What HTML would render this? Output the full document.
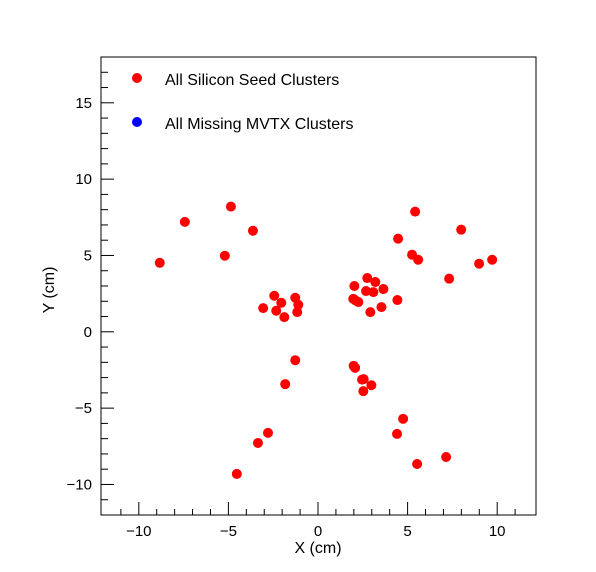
<!DOCTYPE html>
<html><head><meta charset="utf-8"><style>
html,body{margin:0;padding:0;background:#fff}
svg{display:block;font-family:"Liberation Sans",sans-serif}
</style></head><body>
<svg id="chart" width="596" height="572" viewBox="0 0 596 572">
<rect x="0" y="0" width="596" height="572" fill="#fff"/>
<rect x="101" y="57" width="435" height="458" fill="none" stroke="#000" stroke-width="1"/>
<g id="ticks"></g>
<g id="points"></g>
<g>
<circle cx="137" cy="78" r="5" fill="#ff0000"/>
<text x="165" y="85" font-size="16">All Silicon Seed Clusters</text>
<circle cx="137" cy="122" r="5" fill="#0000ff"/>
<text x="165" y="129" font-size="16">All Missing MVTX Clusters</text>
</g>
<text x="318" y="553" font-size="16" text-anchor="middle">X (cm)</text>
<text x="54" y="290" font-size="16" text-anchor="middle" transform="rotate(-90 54 290)">Y (cm)</text>
</svg>
<script>
const xTicks = [-10, -5, 0, 5, 10];
const yTicks = [-10, -5, 0, 5, 10, 15];
const xVals = [-8.83,-7.43,-4.86,-5.2,-3.63,
 -3.06,-2.44,-2.05,-2.33,-1.88,-1.27,-1.1,-1.16,
 2.03,2.75,3.2,2.68,3.09,3.65,1.97,2.25,2.1,2.92,3.54,4.43,
 -1.27,-1.83,1.99,2.07,2.46,2.55,2.98,2.53,
 -3.35,-2.79,-4.53,4.41,4.75,5.53,7.15,
 4.47,5.42,7.99,5.25,5.59,7.32,8.99,9.72];
const yVals = [4.52,7.2,8.2,4.98,6.62,
 1.55,2.36,1.9,1.38,0.96,2.23,1.77,1.29,
 3.0,3.52,3.26,2.67,2.6,2.8,2.16,1.95,2.05,1.29,1.62,2.08,
 -1.86,-3.43,-2.23,-2.36,-3.13,-3.1,-3.5,-3.89,
 -7.28,-6.62,-9.31,-6.69,-5.7,-8.66,-8.2,
 6.1,7.87,6.69,5.05,4.72,3.48,4.46,4.72];
const X0=101,X1=536,Y0=515,Y1=57,xmin=-12,xmax=12,ymin=-12,ymax=18;
const sx=v=>318+v*17.92;
const sy=v=>Y0-(v-ymin)/(ymax-ymin)*(Y0-Y1);
const NS="http://www.w3.org/2000/svg";
const tg=document.getElementById('ticks');
function line(x1,y1,x2,y2,name){const l=document.createElementNS(NS,'line');
l.setAttribute('x1',x1);l.setAttribute('y1',y1);l.setAttribute('x2',x2);l.setAttribute('y2',y2);
l.setAttribute('stroke','#000');l.setAttribute('stroke-width','1');


tg.appendChild(l);}
function txt(x,y,s,anchor,name){const t=document.createElementNS(NS,'text');
t.setAttribute('x',x);t.setAttribute('y',y);t.setAttribute('font-size','15');t.setAttribute('text-anchor',anchor);
t.textContent=s;


tg.appendChild(t);}
for(let v=xmin+1;v<xmax;v++){const major=xTicks.includes(v);line(sx(v),Y0,sx(v),Y0-(major?13:6),'x-tick');}
for(let v=ymin+1;v<ymax;v++){const major=yTicks.includes(v);line(X0,sy(v),X0+(major?13:7),sy(v),'y-tick');}
xTicks.forEach(v=>txt(sx(v),536,v<0?'\u2212'+(-v):String(v),'middle','x-tick-label'));
yTicks.forEach(v=>txt(92,sy(v)+5,v<0?'\u2212'+(-v):String(v),'end','y-tick-label'));
const pg=document.getElementById('points');
xVals.forEach((x,i)=>{const c=document.createElementNS(NS,'circle');
c.setAttribute('cx',sx(x));c.setAttribute('cy',sy(yVals[i]));c.setAttribute('r','5');c.setAttribute('fill','#ff0000');


pg.appendChild(c);});
</script>
</body></html>
